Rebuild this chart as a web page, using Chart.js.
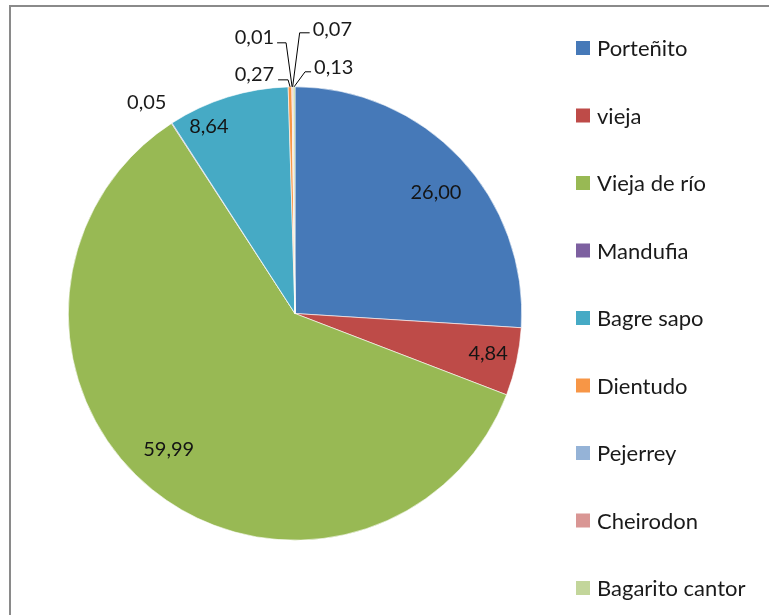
<!DOCTYPE html>
<html>
<head>
<meta charset="utf-8">
<script src="https://cdn.jsdelivr.net/npm/chart.js@4/dist/chart.umd.min.js"></script>
<style>
  html, body { margin: 0; padding: 0; background: #ffffff; }
  #wrap { width: 769px; height: 615px; }
</style>
</head>
<body>
<div id="wrap"><canvas id="c" width="769" height="615"></canvas></div>
<script>
// ---- data ----
const categories = ["Porteñito", "vieja", "Vieja de río", "Mandufia", "Bagre sapo", "Dientudo", "Pejerrey", "Cheirodon", "Bagarito cantor"];
const values = [26.00, 4.84, 59.99, 0.05, 8.64, 0.27, 0.01, 0.07, 0.13];
const colors = ["#4679B8", "#BE4B48", "#98B954", "#7D60A0", "#46AAC5", "#F79646", "#95B3D7", "#D99694", "#C3D69B"];

// ---- label placement (style, not data) ----
// inside labels: radial fraction + angular shift (deg) from slice middle
// outside labels: leader polyline offsets from slice edge point, text anchor offset
const placement = [
  { type: "in", r: 0.82, da: 2.5 },
  { type: "in", r: 0.87, da: -0.6 },
  { type: "in", r: 0.82, da: 3.8 },
  { type: "out", text: [-25, -21], align: "center", leader: null },
  { type: "in", r: 0.91, da: -7.4 },
  { type: "out", text: [-16, -12], align: "right", leader: [[0, 0], [-2, -7], [-12, -7]] },
  { type: "out", text: [-18, -49], align: "right", leader: [[0, 0], [-6, -44], [-15, -44]] },
  { type: "out", text: [20, -57], align: "left", leader: [[0, 0], [7, -54], [17, -54]] },
  { type: "out", text: [20, -19], align: "left", leader: [[0, 0], [11, -15], [17, -15]] }
];

const FONT = "Lato, 'Open Sans', 'DejaVu Sans', sans-serif";

function fmt(v) { return v.toFixed(2).replace(".", ","); }

const framePlugin = {
  id: "frame",
  beforeDraw(chart) {
    const ctx = chart.ctx;
    ctx.save();
    ctx.fillStyle = "#ffffff";
    ctx.fillRect(0, 0, chart.width, chart.height);
    ctx.strokeStyle = "#8a8a8a";
    ctx.lineWidth = 2;
    ctx.beginPath();
    ctx.moveTo(10, chart.height + 5);
    ctx.lineTo(10, 6);
    ctx.lineTo(chart.width + 5, 6);
    ctx.stroke();
    ctx.restore();
  }
};

const labelsPlugin = {
  id: "valueLabels",
  afterDatasetsDraw(chart) {
    const ctx = chart.ctx;
    const meta = chart.getDatasetMeta(0);
    ctx.save();
    ctx.font = "20px " + FONT;
    ctx.textBaseline = "middle";
    meta.data.forEach((arc, i) => {
      const p = arc.getProps(["x", "y", "startAngle", "endAngle", "outerRadius"], true);
      const mid = (p.startAngle + p.endAngle) / 2;
      const pl = placement[i];
      const txt = fmt(values[i]);
      if (pl.type === "in") {
        const a = mid + pl.da * Math.PI / 180;
        const r = p.outerRadius * pl.r;
        ctx.fillStyle = "#141414";
        ctx.textAlign = "center";
        ctx.fillText(txt, p.x + Math.cos(a) * r, p.y + Math.sin(a) * r);
      } else {
        const ex = p.x + Math.cos(mid) * p.outerRadius;
        const ey = p.y + Math.sin(mid) * p.outerRadius;
        if (pl.leader) {
          ctx.strokeStyle = "#000000";
          ctx.lineWidth = 1;
          ctx.beginPath();
          pl.leader.forEach((pt, k) => {
            const lx = ex + pt[0], ly = ey + pt[1];
            if (k === 0) ctx.moveTo(lx, ly); else ctx.lineTo(lx, ly);
          });
          ctx.stroke();
        }
        ctx.fillStyle = "#1a1a1a";
        ctx.textAlign = pl.align;
        ctx.fillText(txt, ex + pl.text[0], ey + pl.text[1]);
      }
    });
    ctx.restore();
  }
};

const legendPlugin = {
  id: "sideLegend",
  afterDraw(chart) {
    const ctx = chart.ctx;
    const ds = chart.data.datasets[0];
    const x0 = 576, y0 = 48, step = 67.5, box = 14;
    ctx.save();
    ctx.font = "22px " + FONT;
    ctx.textBaseline = "middle";
    ctx.textAlign = "left";
    chart.data.labels.forEach((lab, i) => {
      const cy = y0 + i * step;
      ctx.fillStyle = ds.backgroundColor[i];
      ctx.fillRect(x0, cy - box / 2, box, box);
      ctx.fillStyle = "#1a1a1a";
      ctx.fillText(lab, x0 + 21, cy + 1);
    });
    ctx.restore();
  }
};

new Chart(document.getElementById("c"), {
  type: "pie",
  data: {
    labels: categories,
    datasets: [{
      data: values,
      backgroundColor: colors,
      borderColor: "#ffffff",
      borderWidth: 0.6
    }]
  },
  options: {
    responsive: false,
    devicePixelRatio: 1,
    animation: false,
    layout: { padding: { left: 68, top: 86, right: 247, bottom: 74 } },
    plugins: {
      legend: { display: false },
      tooltip: { enabled: false },
      title: { display: false }
    }
  },
  plugins: [framePlugin, labelsPlugin, legendPlugin]
});
</script>
</body>
</html>
